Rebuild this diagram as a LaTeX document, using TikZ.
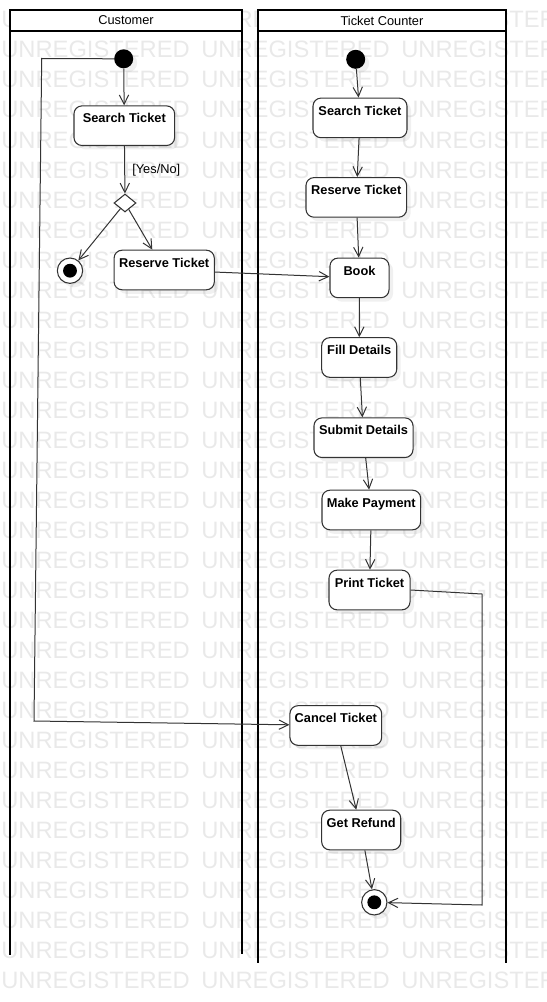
\documentclass[tikz,border=0pt]{standalone}
\usepackage{fontspec}
\setmainfont{Liberation Sans}
\usetikzlibrary{arrows.meta,shapes.geometric,shadows}
\definecolor{wmgray}{RGB}{233,233,233}
\definecolor{linegray}{RGB}{51,51,51}
\begin{document}
\begin{tikzpicture}[x=0.75pt, y=-0.75pt, >={Straight Barb[length=7pt,width=7pt]},
  act/.style={draw=linegray, fill=white, rounded corners=6pt, line width=0.8pt,
    font=\fontsize{9.6}{11}\selectfont\bfseries, inner xsep=2pt, inner ysep=0pt,
    text height=12.7pt, text depth=17pt,
    drop shadow={shadow xshift=3pt, shadow yshift=-3pt, opacity=0.12}},
  initial/.style={circle, fill=black, minimum size=14.25pt, inner sep=0pt,
    drop shadow={shadow xshift=3pt, shadow yshift=-3pt, opacity=0.12}},
  final/.style={circle, draw=linegray, fill=white, minimum size=19pt, inner sep=0pt,
    line width=0.8pt,
    drop shadow={shadow xshift=3pt, shadow yshift=-3pt, opacity=0.12},
    path picture={\fill[black] (path picture bounding box.center) circle (5.2pt);}},
  decide/.style={diamond, draw=linegray, fill=white, line width=0.8pt,
    minimum width=16.5pt, minimum height=13.5pt, inner sep=0pt},
  flow/.style={->, draw=linegray, line width=0.75pt},
  lane/.style={line width=1.8pt},
  head/.style={draw, fill=white, line width=1.8pt, minimum height=15.75pt,
    inner sep=0pt, font=\fontsize{9.6}{11}\selectfont},
  wmark/.style={text=wmgray, font=\fontsize{17.8}{20}\selectfont, inner sep=0pt,
    anchor=base west}]

\useasboundingbox (0,0) rectangle (546,1002);

\begin{scope}
\clip (0,0) rectangle (546,1002);
\foreach \r in {0,...,32}
  \foreach \c in {0,1,2}
    \node[wmark] at (1+200*\c, 28+30*\r) {UNREGISTERED};
\end{scope}

\draw[lane] (10,10) -- (10,955);
\draw[lane] (242,10) -- (242,954);
\draw[lane] (258,10) -- (258,963);
\draw[lane] (506,10) -- (506,963);
\node[head, minimum width=174pt] (chead) at (126,20.5) {Customer};
\node[head, minimum width=186pt] (thead) at (382,20.5) {Ticket Counter};

\node[initial] (cinit) at (123.7,58.8) {};
\node[act, minimum width=75.5pt] (csearch) at (124.3,125.7) {Search Ticket};
\node[decide] (dec) at (125,203) {};
\node[final] (cfinal) at (70,270.7) {};
\node[act, minimum width=75.2pt] (creserve) at (164.2,270) {Reserve Ticket};

\node[initial] (tinit) at (355.7,59.3) {};
\node[act, minimum width=70.5pt] (tsearch) at (360,117.9) {Search Ticket};
\node[act, minimum width=75.5pt] (treserve) at (356.3,197.4) {Reserve Ticket};
\node[act, minimum width=44.3pt] (book) at (359.5,277.9) {Book};
\node[act, minimum width=56.3pt] (fill) at (359.2,357.5) {Fill Details};
\node[act, minimum width=74.3pt] (submit) at (363.5,437.7) {Submit Details};
\node[act, minimum width=74pt] (payment) at (371.3,510) {Make Payment};
\node[act, minimum width=60.8pt] (print) at (369.5,590) {Print Ticket};
\node[act, minimum width=68.8pt] (cancel) at (335.8,725.5) {Cancel Ticket};
\node[act, minimum width=59.3pt] (refund) at (361.2,830) {Get Refund};
\node[final] (tfinal) at (374.3,902.3) {};

\draw[flow] (cinit) -- (csearch);
\draw[flow] (csearch) -- node[right=2pt, font=\fontsize{9.6}{11}\selectfont]{[Yes/No]} (dec);
\draw[flow] (dec) -- (cfinal);
\draw[flow] (dec) -- (creserve);
\draw[flow] (creserve) -- (book);
\draw[flow] (cinit.west) -- (41.7,58.5) -- (34,721) -- (cancel);

\draw[flow] (tinit) -- (tsearch);
\draw[flow] (tsearch) -- (treserve);
\draw[flow] (treserve) -- (book);
\draw[flow] (book) -- (fill);
\draw[flow] (fill) -- (submit);
\draw[flow] (submit) -- (payment);
\draw[flow] (payment) -- (print);
\draw[flow] (print.east) -- (482,594) -- (482,905) -- (tfinal);
\draw[flow] (cancel) -- (refund);
\draw[flow] (refund) -- (tfinal);

\end{tikzpicture}
\end{document}
